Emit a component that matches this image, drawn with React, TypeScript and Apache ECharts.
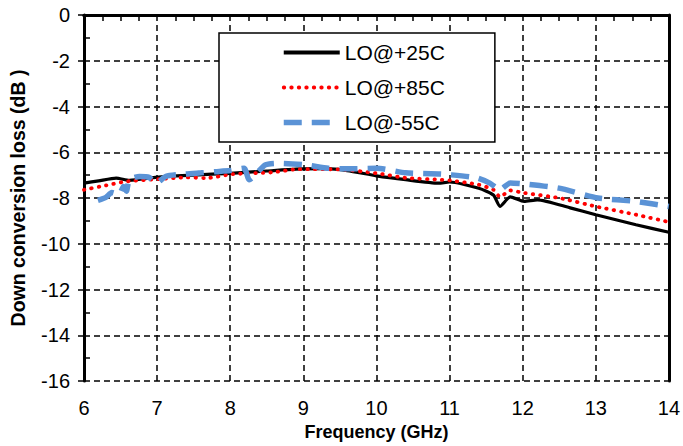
import React, { useEffect, useRef } from "react";
import * as echarts from "echarts";

const freq25 = [6.0, 6.2, 6.44, 6.62, 7.0, 7.5, 8.0, 8.5, 8.9, 9.3, 9.6, 10.0, 10.4, 10.85, 11.0, 11.4, 11.6, 11.69, 11.83, 12.02, 12.2, 12.65, 13.0, 13.55, 14.0];
const loss25 = [-7.35, -7.25, -7.13, -7.23, -7.09, -7.0, -6.92, -6.82, -6.74, -6.72, -6.8, -7.03, -7.2, -7.35, -7.3, -7.57, -7.87, -8.37, -7.95, -8.15, -8.08, -8.43, -8.73, -9.17, -9.5];

const freq85 = [6.0, 6.3, 6.57, 7.03, 7.4, 7.67, 8.03, 8.57, 8.93, 9.5, 10.0, 10.4, 10.85, 11.0, 11.4, 11.6, 11.69, 11.83, 12.02, 12.5, 13.0, 13.55, 14.0];
const loss85 = [-7.64, -7.45, -7.28, -7.17, -7.1, -7.13, -6.96, -6.88, -6.74, -6.75, -6.92, -7.12, -7.2, -7.23, -7.42, -7.64, -7.95, -7.67, -7.78, -8.0, -8.37, -8.73, -9.05];

const freqN55 = [6.19, 6.3, 6.38, 6.48, 6.54, 6.58, 6.62, 6.76, 6.89, 6.99, 7.12, 7.39, 7.6, 7.8, 8.0, 8.19, 8.26, 8.48, 8.66, 9.03, 9.34, 9.66, 10.0, 10.4, 10.85, 11.0, 11.38, 11.55, 11.69, 11.83, 12.02, 12.5, 13.03, 13.55, 14.0];
const lossN55 = [-8.1, -7.97, -7.76, -7.85, -7.5, -7.7, -7.2, -7.06, -7.1, -7.35, -7.05, -6.95, -6.9, -6.85, -6.8, -6.7, -7.2, -6.55, -6.48, -6.55, -6.7, -6.72, -6.7, -6.9, -6.95, -6.98, -7.13, -7.35, -7.64, -7.34, -7.38, -7.57, -8.0, -8.15, -8.37];

const seriesNames = ["LO@+25C", "LO@+85C", "LO@-55C"];
const xTitle = "Frequency (GHz)";
const yTitle = "Down conversion loss (dB )";

const zip = (xs: number[], ys: number[]) => xs.map((x, i) => [x, ys[i]]);

export default function App() {
  const ref = useRef<HTMLDivElement>(null);
  useEffect(() => {
    if (!ref.current) return;
    const chart = echarts.init(ref.current, null, { renderer: "svg" });
    const font = "Liberation Sans, Arial, sans-serif";
    const gridLine = { show: true, lineStyle: { color: "#000", width: 1.5, type: [6, 4] as any } };
    const styles = [
      { color: "#000", width: 3.2 },
      { color: "#ff0000", width: 3.8, type: [0.5, 7] as any, cap: "round" },
      { color: "#5b93d6", width: 5.5, type: [18, 10] as any },
    ];
    chart.setOption({
      animation: false,
      backgroundColor: "#fff",
      grid: { left: 84, right: 10, top: 15, bottom: 65 },
      legend: {
        left: 219,
        top: 33,
        orient: "vertical",
        backgroundColor: "#fff",
        borderColor: "#000",
        borderWidth: 1.5,
        borderRadius: 0,
        padding: [9, 50, 9, 62],
        itemWidth: 56,
        itemHeight: 14,
        itemGap: 14,
        itemStyle: { opacity: 0 },
        textStyle: { fontFamily: font, fontSize: 21, color: "#000" },
        data: seriesNames.map((n, i) => ({ name: n, lineStyle: { ...styles[i], width: i === 0 ? 4 : styles[i].width } })),
      },
      xAxis: [
        {
          type: "value",
          min: 6,
          max: 14,
          interval: 1,
          position: "bottom",
          axisLine: { show: true, lineStyle: { color: "#000", width: 3 } },
          axisTick: { show: false },
          axisLabel: { color: "#000", fontFamily: font, fontSize: 20, margin: 17 },
          splitLine: gridLine,
          name: xTitle,
          nameLocation: "middle",
          nameGap: 42,
          nameTextStyle: { color: "#000", fontFamily: font, fontSize: 18, fontWeight: "bold" },
        },
        {
          type: "value",
          min: 6,
          max: 14,
          interval: 1,
          position: "top",
          axisLine: { show: true, lineStyle: { color: "#000", width: 3 } },
          axisTick: { show: false },
          minorTick: { show: true, splitNumber: 4, length: -6, lineStyle: { color: "#000", width: 1.5 } },
          axisLabel: { show: false },
          splitLine: { show: false },
        },
      ],
      yAxis: [
        {
          type: "value",
          min: -16,
          max: 0,
          interval: 2,
          position: "left",
          axisLine: { show: true, lineStyle: { color: "#000", width: 3 } },
          axisTick: { show: true, length: 6, lineStyle: { color: "#000", width: 1.5 } },
          minorTick: { show: true, splitNumber: 2, length: -6, lineStyle: { color: "#000", width: 1.5 } },
          axisLabel: { color: "#000", fontFamily: font, fontSize: 20, margin: 14 },
          splitLine: gridLine,
          name: yTitle,
          nameLocation: "middle",
          nameGap: 56,
          nameTextStyle: { color: "#000", fontFamily: font, fontSize: 19.5, fontWeight: "bold" },
        },
        {
          type: "value",
          min: -16,
          max: 0,
          interval: 2,
          position: "right",
          axisLine: { show: true, lineStyle: { color: "#000", width: 3 } },
          axisTick: { show: false },
          axisLabel: { show: false },
          splitLine: { show: false },
        },
      ],
      series: [
        {
          name: seriesNames[0],
          type: "line",
          data: zip(freq25, loss25),
          showSymbol: false,
          symbol: "none",
          smooth: 0.2,
          lineStyle: styles[0],
          itemStyle: { color: "#000" },
          z: 3,
        },
        {
          name: seriesNames[1],
          type: "line",
          data: zip(freq85, loss85),
          showSymbol: false,
          symbol: "none",
          smooth: 0.2,
          lineStyle: styles[1],
          itemStyle: { color: "#ff0000" },
          z: 4,
        },
        {
          name: seriesNames[2],
          type: "line",
          data: zip(freqN55, lossN55),
          showSymbol: false,
          symbol: "none",
          smooth: 0.2,
          lineStyle: styles[2],
          itemStyle: { color: "#5b93d6" },
          z: 5,
        },
      ],
    });
    return () => chart.dispose();
  }, []);
  return <div ref={ref} style={{ width: 683, height: 446, position: "absolute", left: 0, top: 0 }} />;
}
